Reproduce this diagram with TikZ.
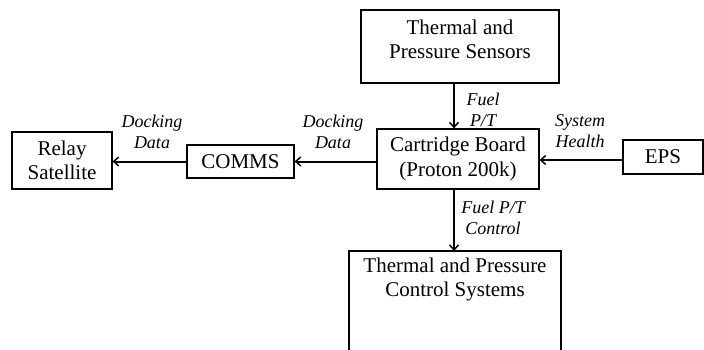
\documentclass[tikz,border=0pt]{standalone}
\usepackage{fontspec}
\setmainfont{Liberation Serif}
\usetikzlibrary{arrows.meta}
\begin{document}
\begin{tikzpicture}[x=1pt,y=-1pt,
  box/.style={draw,line width=1.2pt,align=center,inner sep=0pt,font=\fontsize{21}{24.5}\selectfont},
  txt/.style={align=center,inner sep=0pt,font=\fontsize{21}{24.5}\selectfont},
  lbl/.style={align=center,inner sep=0pt,font=\fontsize{18}{21}\selectfont\itshape},
  arr/.style={line width=2pt,-{Straight Barb[length=5pt,width=9pt,line width=1.5pt]}}]
\useasboundingbox (0,0) rectangle (704,350);
\node[box,minimum width=198pt,minimum height=73pt] (ts) at (460,46.5) {};
\node[txt] (tst) at (460,39.5) {Thermal and\\Pressure Sensors};
\node[box,minimum width=162pt,minimum height=60pt] (cb) at (458,159) {Cartridge Board\\(Proton 200k)};
\node[box,minimum width=80pt,minimum height=34pt] (eps) at (663,157) {EPS};
\node[box,minimum width=107pt,minimum height=33pt] (comms) at (240.5,161.5) {COMMS};
\node[box,minimum width=100pt,minimum height=57pt] (relay) at (62,160.5) {Relay\\Satellite};
% bottom box (runs off the page)
\coordinate (bl) at (349,362);
\coordinate (br) at (561,362);
\coordinate (tp) at (454,251);
\draw[line width=1.2pt] (bl) |- (tp) -| (br);
\node[txt] (tpt) at (455,279.5) {Thermal and Pressure\\Control Systems};
% arrows
\coordinate (xa) at (454,0);
\draw[arr] (ts.south -| xa) -- (cb.north -| xa);
\draw[arr] (cb.south -| xa) -- (tp);
\draw[arr] (eps.west |- 0,160) -- (cb.east |- 0,160);
\draw[arr] (cb.west |- comms) -- (comms.east);
\draw[arr] (comms.west) -- (relay.east |- comms);
% labels
\node[lbl] (l1) at (483,110) {Fuel\\P/T};
\node[lbl] (l2) at (580,131.5) {System\\Health};
\node[lbl] (l3) at (333,131.5) {Docking\\Data};
\node[lbl] (l4) at (152,131.5) {Docking\\Data};
\node[lbl] (l5) at (493,218) {Fuel P/T\\Control};
\end{tikzpicture}
\end{document}
